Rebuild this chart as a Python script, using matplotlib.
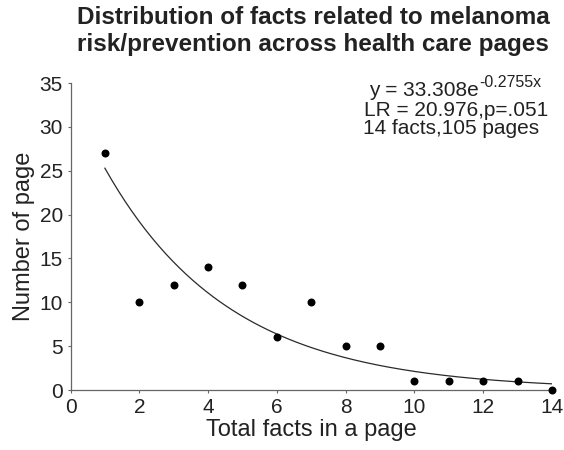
import numpy as np
import matplotlib
matplotlib.use("Agg")
import matplotlib.pyplot as plt

plt.rcParams['font.family'] = ['Liberation Sans', 'DejaVu Sans']

facts = [1, 2, 3, 4, 5, 6, 7, 8, 9, 10, 11, 12, 13, 14]
pages = [27, 10, 12, 14, 12, 6, 10, 5, 5, 1, 1, 1, 1, 0]
fit_a = 33.308
fit_b = -0.2755
xticks = [0, 2, 4, 6, 8, 10, 12, 14]
yticks = [0, 5, 10, 15, 20, 25, 30, 35]

W, H = 564, 450
fig = plt.figure(figsize=(W / 100, H / 100), dpi=100)
ax = fig.add_axes([70.5 / W, 60 / H, 481.5 / W, 307 / H])

xf = np.linspace(1, 14, 200)
ax.plot(xf, fit_a * np.exp(fit_b * xf), color='#2a2a2a', lw=0.9)
ax.scatter(facts, pages, s=33, color='black', zorder=3, clip_on=False, linewidths=0)

ax.set_xlim(0, 14)
ax.set_ylim(0, 35)
ax.set_xticks(xticks)
ax.set_yticks(yticks)
for s in ['top', 'right']:
    ax.spines[s].set_visible(False)
for s in ['left', 'bottom']:
    ax.spines[s].set_color('#666666')
    ax.spines[s].set_linewidth(0.9)
ax.tick_params(direction='out', length=2.5, width=0.8, color='#666666', labelsize=15,
               labelcolor='#222222', pad=3)
ax.set_xlabel('Total facts in a page', fontsize=17, color='#222222', labelpad=2)
ax.set_ylabel('Number of page', fontsize=17, color='#222222', labelpad=3)

fig.text(0.555, 1 - 6.5 / H, 'Distribution of facts related to melanoma\nrisk/prevention across health care pages',
         ha='center', va='top', fontsize=17.5, fontweight='bold', color='#222222', linespacing=1.2)

t1 = fig.text(369 / W, 1 - 95.5 / H, 'y = 33.308e', ha='left', va='baseline', fontsize=15, color='#222222')
fig.text(364 / W, 1 - 116 / H, 'LR = 20.976,p=.051', ha='left', va='baseline', fontsize=15, color='#222222')
fig.text(363 / W, 1 - 133.5 / H, '14 facts,105 pages', ha='left', va='baseline', fontsize=15, color='#222222')
fig.canvas.draw()
bb = t1.get_window_extent()
fig.text((bb.x1 + 1) / W, 1 - 87 / H, '-0.2755x', ha='left', va='baseline', fontsize=11.5, color='#222222')

fig.savefig('out.png', dpi=100)
